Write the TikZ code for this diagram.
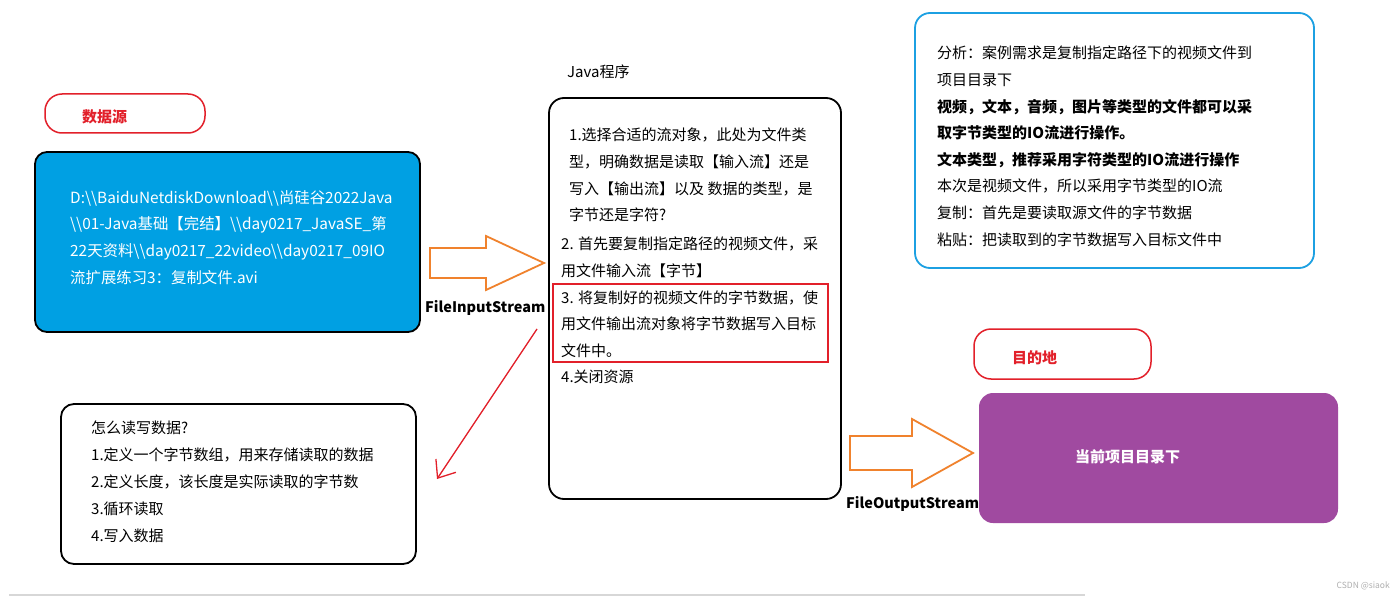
\documentclass[tikz,border=0pt]{standalone}
\usepackage{fontspec}
\setmainfont{Noto Sans CJK SC}
\usetikzlibrary{arrows.meta}
\definecolor{srcblue}{RGB}{0,160,227}
\definecolor{noteblue}{RGB}{28,160,226}
\definecolor{boxred}{RGB}{226,32,42}
\definecolor{arrorange}{RGB}{240,130,45}
\definecolor{dstpurple}{RGB}{160,74,160}
\definecolor{wmgray}{RGB}{175,175,175}
\begin{document}
\begin{tikzpicture}[x=1pt,y=-1pt,
  box/.style={draw=black, line width=1.8pt, minimum width=#1, inner sep=0pt, outer sep=0pt},
  lblbox/.style={draw=boxred, line width=1.5pt, rounded corners=17pt, inner sep=0pt},
  txt/.style={anchor=north west, inner sep=0pt, align=left, font=\fontsize{15pt}{26.6pt}\selectfont},
  boldlbl/.style={anchor=west, inner sep=0pt, font=\fontsize{15pt}{18pt}\selectfont\bfseries},
  streamlbl/.style={anchor=west, inner sep=0pt, font=\fontsize{14.5pt}{18pt}\selectfont\bfseries},
  hollowarrow/.style={draw=arrorange, line width=1.8pt, line join=miter, fill=white},
]
\useasboundingbox (0,0) rectangle (1400,596);
\fill[white] (0,0) rectangle (1400,596);

% ---------- data source ----------
\node[lblbox, minimum width=160pt, minimum height=39pt] (srclbl) at (125,113.5) {};
\node[boldlbl, text=boxred] (srctext) at (82,117) {数据源};

\node[box=385pt, fill=srcblue, rounded corners=12pt, minimum height=180pt] (src) at (227.5,242) {};
\node[txt, text=white, font=\fontsize{15.4pt}{26.7pt}\selectfont] (srcpath) at (70,190) {D:\textbackslash\textbackslash BaiduNetdiskDownload\textbackslash\textbackslash 尚硅谷2022Java\\
\textbackslash\textbackslash 01-Java基础【完结】\textbackslash\textbackslash day0217\_JavaSE\_第\\
22天资料\textbackslash\textbackslash day0217\_22video\textbackslash\textbackslash day0217\_09IO\\
流扩展练习3：复制文件.avi};

% ---------- arrow 1 ----------
\coordinate (a1s) at (430,263);
\coordinate (a1t) at (544,263);
\draw[hollowarrow] (a1s) ++(0,-15) -- ++(56,0) -- ++(0,-12) -- (a1t) -- ++(-58,27) -- ++(0,-12) -- ++(-56,0) -- cycle;
\node[streamlbl] (fis) at (425,308) {FileInputStream};

% ---------- Java program ----------
\node[anchor=west, inner sep=0pt, font=\fontsize{15pt}{18pt}\selectfont] (javalbl) at (567,72) {Java程序};
\node[box=292pt, rounded corners=15pt, minimum height=401pt] (java) at (695,298.5) {};
\node[draw=boxred, line width=1.8pt, minimum width=275pt, minimum height=78pt, inner sep=0pt] (step3box) at (690.5,323) {};
\node[txt] (j1) at (569,128) {1.选择合适的流对象，此处为文件类\\
型，明确数据是读取【输入流】还是\\
写入【输出流】以及 数据的类型，是\\
字节还是字符?};
\node[txt] (j2) at (561,237) {2. 首先要复制指定路径的视频文件，采\\
用文件输入流【字节】\\
3. 将复制好的视频文件的字节数据，使\\
用文件输出流对象将字节数据写入目标\\
文件中。\\
4.关闭资源};

% ---------- red arrow ----------
\coordinate (ra) at (537,329);
\coordinate (rb) at (437,479);
\draw[boxred, line width=1.3pt, -{Straight Barb[length=15pt, width=24pt, line width=1.3pt]}] (ra) -- (rb);

% ---------- how to read/write ----------
\node[box=355pt, rounded corners=13pt, minimum height=160pt] (howto) at (238.5,484) {};
\node[txt, font=\fontsize{15pt}{27pt}\selectfont] (howtotext) at (91,421) {怎么读写数据?\\
1.定义一个字节数组，用来存储读取的数据\\
2.定义长度，该长度是实际读取的字节数\\
3.循环读取\\
4.写入数据};

% ---------- analysis ----------
\node[draw=noteblue, line width=1.8pt, rounded corners=15pt, minimum width=399pt, minimum height=255pt, inner sep=0pt] (note) at (1114.5,140.5) {};
\node[txt] (notetext) at (937,46) {分析：案例需求是复制指定路径下的视频文件到\\
项目目录下\\
\textbf{视频，文本，音频，图片等类型的文件都可以采}\\
\textbf{取字节类型的IO流进行操作。}\\
\textbf{文本类型，推荐采用字符类型的IO流进行操作}\\
本次是视频文件，所以采用字节类型的IO流\\
复制：首先是要读取源文件的字节数据\\
粘贴：把读取到的字节数据写入目标文件中};

% ---------- destination ----------
\node[lblbox, minimum width=177pt, minimum height=50pt] (dstlbl) at (1062.5,354) {};
\node[boldlbl, text=boxred] (dsttext) at (1012,358) {目的地};
\node[fill=dstpurple, rounded corners=14pt, minimum width=359pt, minimum height=130pt, inner sep=0pt] (dst) at (1158.5,458) {};
\node[anchor=center, inner sep=0pt, text=white, font=\fontsize{15pt}{18pt}\selectfont\bfseries] (dsttxt) at (1127.5,457) {当前项目目录下};

% ---------- arrow 2 ----------
\coordinate (a2s) at (850,453);
\coordinate (a2t) at (973,453);
\draw[hollowarrow] (a2s) ++(0,-17) -- ++(62,0) -- ++(0,-17) -- (a2t) -- ++(-61,34) -- ++(0,-17) -- ++(-62,0) -- cycle;
\node[streamlbl] (fos) at (846,504) {FileOutputStream};

% ---------- page edge / watermark ----------
\coordinate (pl) at (9,595);
\coordinate (pr) at (1085,595);
\draw[wmgray!50, line width=1.5pt] (pl) -- (pr);
\node[anchor=east, inner sep=0pt, text=wmgray, font=\fontsize{8.5pt}{9pt}\selectfont] (wm) at (1390,586) {CSDN @siaok};
\end{tikzpicture}
\end{document}
